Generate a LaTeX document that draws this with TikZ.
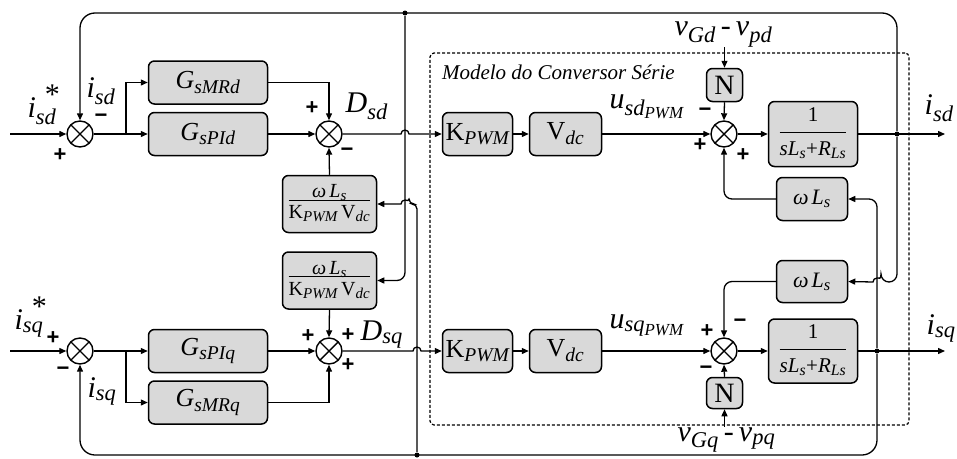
\documentclass[tikz,border=0pt]{standalone}
\usepackage{fontspec}
\setmainfont{Liberation Serif}
\setsansfont{Liberation Sans}
\usetikzlibrary{arrows.meta,positioning}
\setlength{\arrayrulewidth}{1pt}
\renewcommand{\defaultscriptratio}{.75}
\renewcommand{\defaultscriptscriptratio}{.6}
% fraction: numerator, denominator, gap below numerator, strut of denominator
\newcommand{\fracbox}[4]{\begin{tabular}{@{}c@{}}#1\\[#3]\hline\rule{0pt}{#4}#2\end{tabular}}
\newcommand{\refstar}{\rlap{\hspace{9pt}\raisebox{13pt}{\upshape *}}}

\begin{document}
\begin{tikzpicture}[x=1pt,y=1pt,>={Triangle[length=7pt,width=6pt]},line width=1.3pt,
 blk/.style={draw,line width=1.5pt,rounded corners=6pt,fill=gray!30,inner sep=0pt,font=\fontsize{26}{26}\selectfont},
 fblk/.style={blk,font=\fontsize{20}{20}\selectfont},
 sumc/.style={draw,line width=1.4pt,circle,minimum size=26pt,inner sep=0pt,fill=white,
  path picture={\draw[line width=1.4pt] (path picture bounding box.north west) -- (path picture bounding box.south east)
  (path picture bounding box.north east) -- (path picture bounding box.south west);}},
 lab/.style={font=\fontsize{30}{30}\selectfont\itshape,inner sep=0pt,anchor=base west},
 sgn/.style={font=\fontsize{22}{22}\selectfont\sffamily\bfseries,inner sep=0pt},
 tap/.style={circle,fill,inner sep=0pt,minimum size=5pt}]
\useasboundingbox (0,0) rectangle (957,-458);
% conversor frame
\node[draw,dashed,dash pattern=on 3pt off 2pt,line width=1.2pt,rounded corners=4pt,
 minimum width=479pt,minimum height=372pt] (conv) at (669.5,-239) {};
\node[font=\fontsize{21}{21}\selectfont\itshape,anchor=north west,inner sep=0pt] (convlab)
 at ([shift={(12pt,-12pt)}]conv.north west) {Modelo do Conversor Série};
% eixo d
\node[sumc] (sd1) at (80,-134) {};
\node[blk,minimum width=119pt,minimum height=43pt] (gmrd) at (208,-82.5) {\textit{G\textsubscript{sMRd}}};
\node[blk,minimum width=119pt,minimum height=43pt] (gpid) at (208,-134) {\textit{G\textsubscript{sPId}}};
\node[sumc] (sd2) at (329,-134) {};
\node[fblk,minimum width=94pt,minimum height=57pt] (dec1) at (329.5,-204)
 {\fracbox{\textit{ω\,L\textsubscript{s}}}{K\textsubscript{\itshape PWM}\,V\textsubscript{\itshape dc}}{-4pt}{18pt}};
\node[blk,minimum width=70pt,minimum height=43pt] (kpd) at (477.5,-134) {K\textsubscript{\itshape PWM}};
\node[blk,minimum width=72pt,minimum height=43pt] (vd) at (565.5,-134) {V\textsubscript{\itshape dc}};
\node[sumc] (sd3) at (724,-134) {};
\node[blk,minimum width=36pt,minimum height=33pt,font=\fontsize{28}{28}\selectfont] (nd) at (724.5,-85) {N};
\node[fblk,minimum width=89pt,minimum height=65pt,font=\fontsize{21}{21}\selectfont] (pd) at (813,-134)
 {\fracbox{1}{\textit{sL\textsubscript{s}}+\textit{R\textsubscript{Ls}}}{5pt}{22pt}};
\node[fblk,minimum width=71pt,minimum height=43pt,font=\fontsize{22}{22}\selectfont] (wld) at (812,-199)
 {\textit{ω\hspace{3pt}L\textsubscript{s}}};
% eixo q
\node[sumc] (sq1) at (80,-351) {};
\node[blk,minimum width=119pt,minimum height=43pt] (gpiq) at (208,-351) {\textit{G\textsubscript{sPIq}}};
\node[blk,minimum width=119pt,minimum height=43pt] (gmrq) at (208,-402.5) {\textit{G\textsubscript{sMRq}}};
\node[sumc] (sq2) at (329,-351) {};
\node[fblk,minimum width=94pt,minimum height=57pt] (dec2) at (329.5,-280.5)
 {\fracbox{\textit{ω\,L\textsubscript{s}}}{K\textsubscript{\itshape PWM}\,V\textsubscript{\itshape dc}}{-4pt}{18pt}};
\node[blk,minimum width=70pt,minimum height=43pt] (kpq) at (477.5,-351) {K\textsubscript{\itshape PWM}};
\node[blk,minimum width=72pt,minimum height=43pt] (vq) at (565.5,-351) {V\textsubscript{\itshape dc}};
\node[sumc] (sq3) at (724,-351) {};
\node[blk,minimum width=36pt,minimum height=31pt,font=\fontsize{28}{28}\selectfont] (nq) at (724.5,-393) {N};
\node[fblk,minimum width=89pt,minimum height=64pt,font=\fontsize{21}{21}\selectfont] (pq) at (813,-351)
 {\fracbox{1}{\textit{sL\textsubscript{s}}+\textit{R\textsubscript{Ls}}}{5pt}{22pt}};
\node[fblk,minimum width=71pt,minimum height=42pt,font=\fontsize{22}{22}\selectfont] (wlq) at (812,-281.5)
 {\textit{ω\hspace{3pt}L\textsubscript{s}}};
% labels
\node[lab] (isdref) at (27,-117) {i\refstar\textsubscript{sd}};
\node[lab] (isdfb) at (86,-97) {i\textsubscript{sd}};
\node[lab] (dsd) at (345,-112) {D\textsubscript{sd}};
\node[lab] (usd) at (609,-108) {u\textsubscript{sd\textsubscript{PWM}}};
\node[lab] (isdout) at (924,-114) {i\textsubscript{sd}};
\node[lab] (vgd) at (674,-35) {v\textsubscript{Gd}\,-\,v\textsubscript{pd}};
\node[lab] (isqref) at (14,-329) {i\refstar\textsubscript{sq}};
\node[lab] (isqfb) at (87,-397) {i\textsubscript{sq}};
\node[lab] (dsq) at (360,-340) {D\textsubscript{sq}};
\node[lab] (usq) at (609,-328) {u\textsubscript{sq\textsubscript{PWM}}};
\node[lab] (isqout) at (926,-334) {i\textsubscript{sq}};
\node[lab] (vgq) at (677,-441) {v\textsubscript{Gq}\,-\,v\textsubscript{pq}};
% signs
\node[sgn] at (60,-155) {+};
\node[sgn] at (101,-118) {−};
\node[sgn] at (312,-108) {+};
\node[sgn] at (347,-152) {−};
\node[sgn] at (705,-112) {−};
\node[sgn] at (700,-145) {+};
\node[sgn] at (743,-155) {+};
\node[sgn] at (53,-338) {+};
\node[sgn] at (63,-371) {−};
\node[sgn] at (308,-336) {+};
\node[sgn] at (348,-335) {+};
\node[sgn] at (348,-365) {+};
\node[sgn] at (707,-331) {+};
\node[sgn] at (740,-323) {−};
\node[sgn] at (706,-370) {−};
% connectors d
\coordinate (ind) at (10,-134);
\coordinate (outd) at (945,-134);
\coordinate (brd) at (126,-134);
\draw[->] (ind) -- (sd1.west);
\draw (sd1.east) -- (brd);
\draw[->] (brd) |- (gmrd.west);
\draw[->] (brd) -- (gpid.west);
\draw[->] (gmrd.east) -| (sd2.north);
\draw[->] (gpid.east) -- (sd2.west);
\draw[->] (dec1.north) -- (sd2.south);
\draw[->] (sd2.east) -- (401,-134) arc[start angle=180,end angle=0,radius=4] -- (kpd.west);
\draw[->] (kpd.east) -- (vd.west);
\draw[->] (vd.east) -- (sd3.west);
\draw[->] (sd3.east) -- (pd.west);
\draw[->] (pd.east) -- (outd);
\draw[->] (vgd.south -| nd.north) -- (nd.north);
\draw[->] (nd.south) -- (sd3.north);
\draw[->,rounded corners=8pt] (wld.west) -| (sd3.south);
% connectors q
\coordinate (inq) at (10,-351);
\coordinate (outq) at (945,-351);
\coordinate (brq) at (126,-351);
\draw[->] (inq) -- (sq1.west);
\draw (sq1.east) -- (brq);
\draw[->] (brq) -- (gpiq.west);
\draw[->] (brq) |- (gmrq.west);
\draw[->] (gpiq.east) -- (sq2.west);
\draw[->] (gmrq.east) -| (sq2.south);
\draw[->] (dec2.south) -- (sq2.north);
\draw[->] (sq2.east) -- (413,-351) arc[start angle=180,end angle=0,radius=4] -- (kpq.west);
\draw[->] (kpq.east) -- (vq.west);
\draw[->] (vq.east) -- (sq3.west);
\draw[->] (sq3.east) -- (pq.west);
\draw[->] (pq.east) -- (outq);
\draw[->] (vgq.north -| nq.south) -- (nq.south);
\draw[->] (nq.north) -- (sq3.south);
\draw[->,rounded corners=8pt] (wlq.west) -| (sq3.north);
% realimentacoes e desacoplamento
\node[tap] (dtap) at (897,-134) {};
\node[tap] (qtap) at (877,-351) {};
\node[tap] (ttap) at (405,-13) {};
\node[tap] (btap) at (417,-455) {};
\draw[->,rounded corners=15pt] (dtap) -- (897,-13) -- (80,-13) -- (sd1.north);
\draw[->,rounded corners=15pt] (qtap) -- (877,-455) -- (80,-455) -- (sq1.south);
\draw[->,rounded corners=8pt] (ttap) |- (dec2.east);
\draw[->] (btap) [rounded corners=5pt] -- (417,-204) -- (409,-204) [sharp corners]
 arc[start angle=0,end angle=180,radius=4] -- (dec1.east);
\draw[->,rounded corners=8pt] (qtap) |- (wld.east);
\draw[->] (dtap) [rounded corners=8pt] -- (897,-282) -- (881,-282) [sharp corners]
 arc[start angle=0,end angle=180,radius=4] -- (wlq.east);
\end{tikzpicture}
\end{document}
